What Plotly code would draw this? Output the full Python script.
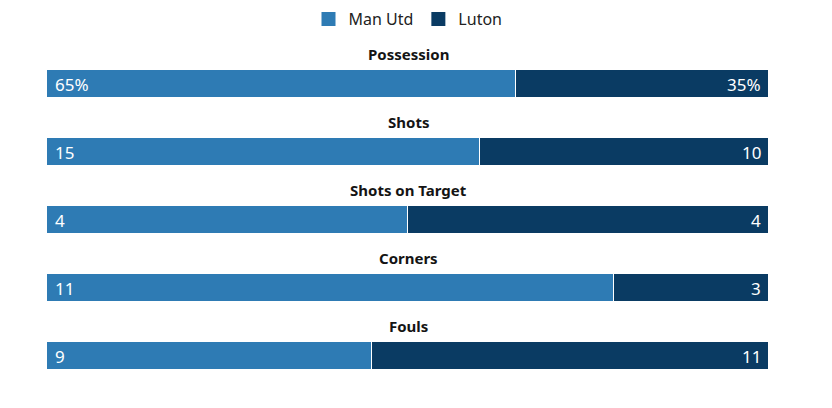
import plotly.graph_objects as go
from plotly.subplots import make_subplots

stats = ["Possession", "Shots", "Shots on Target", "Corners", "Fouls"]
home_vals = [65, 15, 4, 11, 9]
away_vals = [35, 10, 4, 3, 11]
suffix = ["%", "", "", "", ""]
teams = ["Man Utd", "Luton"]
colors = ["#2e7bb4", "#0a3b63"]

W, H = 832, 408
OFF = 8  # page body margin
bar_tops = [70 - OFF, 138 - OFF, 206 - OFF, 274 - OFF, 342 - OFF]
bar_h = 28

fig = make_subplots(rows=5, cols=1)
font = "Noto Sans, Open Sans, sans-serif"

for i, s in enumerate(stats):
    r = i + 1
    total = home_vals[i] + away_vals[i]
    fig.add_trace(go.Bar(y=[s], x=[home_vals[i]], orientation="h", name=teams[0],
                         marker=dict(color=colors[0], line=dict(color="white", width=1)),
                         showlegend=False, hoverinfo="skip"), row=r, col=1)
    fig.add_trace(go.Bar(y=[s], x=[away_vals[i]], orientation="h", name=teams[1],
                         marker=dict(color=colors[1], line=dict(color="white", width=1)),
                         showlegend=False, hoverinfo="skip"), row=r, col=1)
    top = 1 - bar_tops[i] / H
    bot = 1 - (bar_tops[i] + bar_h) / H
    ax = "" if r == 1 else str(r)
    fig.update_layout(**{
        f"xaxis{ax}": dict(domain=[0, 1], range=[0, total], type="linear",
                           visible=False, fixedrange=True),
        f"yaxis{ax}": dict(domain=[bot, top], type="category", visible=False, fixedrange=True,
                           range=[-0.5, 0.5]),
    })
    xref = f"x{ax}"
    yref = f"y{ax}"
    fig.add_annotation(x=0, y=s, xref=xref, yref=yref, text=f"{home_vals[i]}{suffix[i]}",
                       xanchor="left", xshift=6, showarrow=False,
                       font=dict(color="white", size=17, family=font))
    fig.add_annotation(x=total, y=s, xref=xref, yref=yref, text=f"{away_vals[i]}{suffix[i]}",
                       xanchor="right", xshift=-6, showarrow=False,
                       font=dict(color="white", size=17, family=font))
    fig.add_annotation(x=0.5, y=top, xref="paper", yref="paper", text=f"<b>{s}</b>",
                       xanchor="center", yanchor="bottom", yshift=4, showarrow=False,
                       font=dict(color="#141414", size=15, family=font))

# legend entries (square markers), on the last subplot
for t, c in zip(teams, colors):
    fig.add_trace(go.Scatter(x=[None], y=[None], mode="markers", name=t,
                             marker=dict(symbol="square", size=14, color=c),
                             hoverinfo="skip"), row=5, col=1)

fig.update_layout(
    barmode="stack", bargap=0,
    width=W, height=H,
    margin=dict(l=47 - OFF, r=832 - (769 - OFF), t=0, b=0, autoexpand=False),
    paper_bgcolor="white", plot_bgcolor="white",
    font=dict(family=font, color="#222222"),
    legend=dict(orientation="h", x=0.5, xanchor="center", y=1 - (19 - OFF) / H, yanchor="middle",
                font=dict(size=16), itemwidth=30, traceorder="normal", tracegroupgap=0),
)

fig.write_html("out.html")
